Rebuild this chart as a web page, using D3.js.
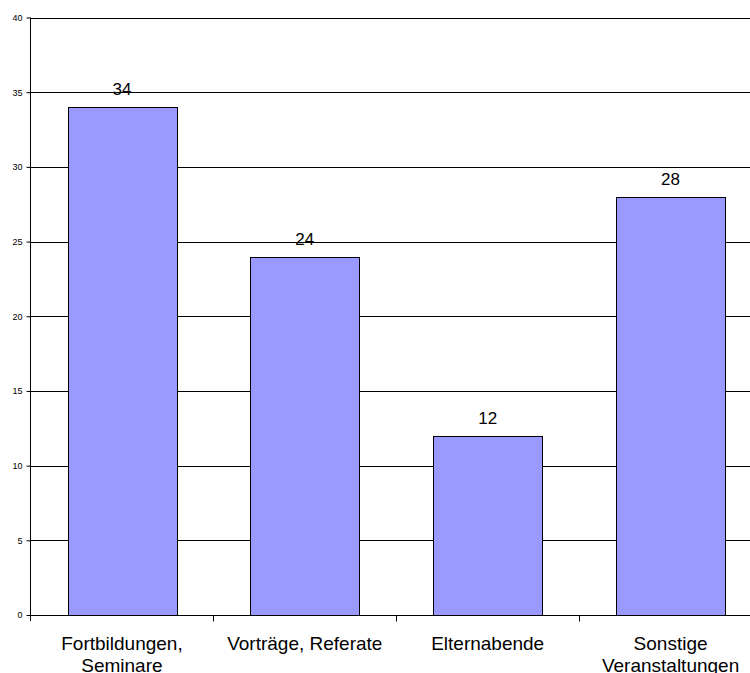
<!DOCTYPE html>
<html>
<head>
<meta charset="utf-8">
<script src="https://cdn.jsdelivr.net/npm/d3@7"></script>
<style>
  body { margin: 0; background: #fff; }
  svg { display: block; font-family: "Liberation Sans", Arial, sans-serif; }
</style>
</head>
<body>
<div id="chart"></div>
<script>
// chart values
var categories = [["Fortbildungen,", "Seminare"], ["Vorträge, Referate"], ["Elternabende"], ["Sonstige", "Veranstaltungen"]];
var values = [34, 24, 12, 28];
var yTicks = [0, 5, 10, 15, 20, 25, 30, 35, 40];

var width = 750, height = 673;
var m = { left: 30.5, top: 17.5, right: -12, bottom: 58 };

var svg = d3.select("#chart").append("svg")
    .attr("width", width)
    .attr("height", height);

var x = d3.scaleBand()
    .domain(d3.range(values.length))
    .range([m.left, width - m.right])
    .paddingInner(0.405)
    .paddingOuter(0.2025);

var y = d3.scaleLinear()
    .domain([0, 40])
    .range([height - m.bottom, m.top]);

// band boundaries for category ticks
var step = (width - m.right - m.left) / values.length;

// gridlines
svg.append("g").selectAll("line")
    .data(yTicks.filter(function(d) { return d > 0; }))
    .join("line")
    .attr("x1", m.left)
    .attr("x2", width)
    .attr("y1", function(d) { return Math.round(y(d)) + 0.5; })
    .attr("y2", function(d) { return Math.round(y(d)) + 0.5; })
    .attr("stroke", "#000")
    .attr("stroke-width", 1);

// bars
svg.append("g").selectAll("rect")
    .data(values)
    .join("rect")
    .attr("x", function(d, i) { return Math.round(x(i)) + 0.5; })
    .attr("y", function(d) { return Math.round(y(d)) + 0.5; })
    .attr("width", Math.round(x.bandwidth()))
    .attr("height", function(d) { return Math.round(y(0)) - Math.round(y(d)); })
    .attr("fill", "#9999ff")
    .attr("stroke", "#000")
    .attr("stroke-width", 1);

// value labels
svg.append("g").selectAll("text")
    .data(values)
    .join("text")
    .attr("x", function(d, i) { return x(i) + x.bandwidth() / 2; })
    .attr("y", function(d) { return y(d) - 12; })
    .attr("text-anchor", "middle")
    .attr("font-size", "17px")
    .attr("fill", "#000")
    .text(function(d) { return d; });

// y axis
var yAxis = svg.append("g")
    .attr("transform", "translate(" + m.left + ",0)")
    .call(d3.axisLeft(y).tickValues(yTicks).tickSize(4).tickPadding(4));
yAxis.selectAll("text").attr("font-size", "9px").attr("font-family", "Liberation Sans, Arial, sans-serif").attr("fill", "#000");
yAxis.selectAll("line, path").attr("stroke", "#000");
yAxis.select(".domain").attr("d", "M0," + y(40) + "V" + (y(0) + 6));

// x axis line
var y0 = Math.round(y(0)) + 0.5;
svg.append("line")
    .attr("x1", m.left).attr("x2", width)
    .attr("y1", y0).attr("y2", y0)
    .attr("stroke", "#000");

// category ticks
svg.append("g").selectAll("line")
    .data(d3.range(1, values.length))
    .join("line")
    .attr("x1", function(d) { return Math.round(m.left + d * step) + 0.5; })
    .attr("x2", function(d) { return Math.round(m.left + d * step) + 0.5; })
    .attr("y1", y0)
    .attr("y2", y0 + 6)
    .attr("stroke", "#000");

// category labels
var cat = svg.append("g").selectAll("text")
    .data(categories)
    .join("text")
    .attr("x", function(d, i) { return x(i) + x.bandwidth() / 2; })
    .attr("y", y0 + 34)
    .attr("text-anchor", "middle")
    .attr("font-size", "19px")
    .attr("fill", "#000");

cat.selectAll("tspan")
    .data(function(d) { return d; })
    .join("tspan")
    .attr("x", function() { return d3.select(this.parentNode).attr("x"); })
    .attr("dy", function(d, i) { return i === 0 ? 0 : 22; })
    .text(function(d) { return d; });
</script>
</body>
</html>
